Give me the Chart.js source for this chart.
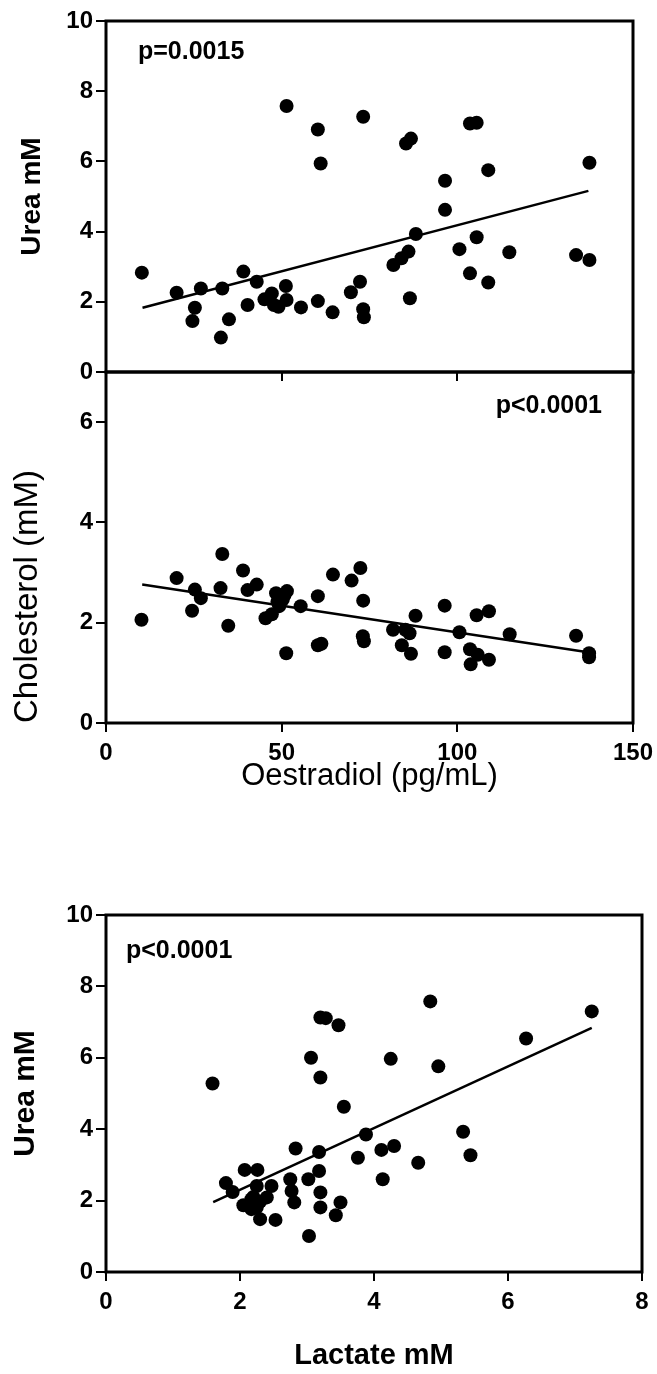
<!DOCTYPE html>
<html>
<head>
<meta charset="utf-8">
<script src="https://cdn.jsdelivr.net/npm/chart.js@4.4.1/dist/chart.umd.min.js"></script>
<style>
  body { margin: 0; background: #fff; }
  #wrap { position: relative; width: 657px; height: 1374px; overflow: hidden; }
  canvas { position: absolute; left: 0; }
</style>
</head>
<body>
<div id="wrap">
  <canvas id="urea-oest" width="657" height="392" style="top:0"></canvas>
  <canvas id="chol-oest" width="657" height="450" style="top:352px"></canvas>
  <canvas id="urea-lact" width="657" height="494" style="top:880px"></canvas>
</div>
<script>
// top panel: urea vs oestradiol
const topOestradiol = [10.2, 20.1, 24.6, 25.3, 27.0, 32.7, 33.1, 35.0, 39.1, 40.3, 42.9, 45.1, 47.2, 47.8, 49.1, 51.2,
  51.4, 51.4, 55.5, 60.3, 61.1, 60.3, 64.5, 69.7, 72.3, 73.2, 73.2, 73.4, 81.8, 84.1, 85.4, 86.1, 86.5, 86.8, 88.2,
  96.5, 96.5, 100.6, 103.6, 103.6, 105.5, 105.5, 108.8, 108.8, 114.8, 133.8, 137.6, 137.6];
const topUrea = [2.83, 2.26, 1.45, 1.83, 2.38, 0.98, 2.38, 1.50, 2.86, 1.91, 2.57, 2.07, 2.24, 1.91, 1.86, 2.45,
  2.05, 7.58, 1.84, 6.91, 5.94, 2.02, 1.70, 2.27, 2.57, 7.27, 1.79, 1.56, 3.05, 3.24, 6.51, 3.43, 2.10, 6.65, 3.93,
  5.45, 4.62, 3.50, 7.08, 2.81, 7.10, 3.84, 5.75, 2.55, 3.41, 3.33, 3.19, 5.96];
const topFitX = [10.4, 137.3];
const topFitY = [1.83, 5.16];

// middle panel: cholesterol vs oestradiol
const midOestradiol = [10.1, 20.1, 25.3, 27.0, 24.5, 32.6, 33.1, 34.8, 39.0, 40.3, 42.9, 45.4, 47.2, 48.4, 49.3,
  50.3, 51.5, 51.3, 55.4, 60.3, 60.3, 61.3, 64.6, 69.9, 72.4, 73.2, 73.1, 73.4, 81.7, 84.2, 85.2, 86.4, 86.8, 88.1,
  96.4, 96.4, 100.6, 103.6, 103.8, 105.5, 105.8, 109.0, 109.0, 114.9, 133.8, 137.5, 137.5, 48.8, 50.8];
const midCholesterol = [2.06, 2.89, 2.66, 2.49, 2.24, 2.69, 3.37, 1.94, 3.04, 2.65, 2.76, 2.09, 2.17, 2.59, 2.33,
  2.46, 2.63, 1.39, 2.33, 2.53, 1.55, 1.58, 2.96, 2.84, 3.09, 2.44, 1.73, 1.63, 1.86, 1.55, 1.86, 1.79, 1.38, 2.14,
  2.34, 1.41, 1.81, 1.47, 1.17, 2.15, 1.36, 2.23, 1.26, 1.77, 1.74, 1.39, 1.31, 2.42, 2.55];
const midFitX = [10.3, 137.2];
const midFitY = [2.76, 1.41];

// bottom panel: urea vs lactate
const lactate = [1.59, 1.79, 1.89, 2.05, 2.07, 2.17, 2.2, 2.25, 2.25, 2.26, 2.3, 2.4, 2.47, 2.53, 2.75, 2.77, 2.81,
  2.83, 3.02, 3.03, 3.06, 3.18, 3.18, 3.2, 3.2, 3.2, 3.2, 3.28, 3.47, 3.43, 3.5, 3.55, 3.76, 3.88, 4.11, 4.13, 4.25,
  4.3, 4.66, 4.84, 4.96, 5.33, 5.44, 6.27, 7.25, 2.3, 2.17];
const lactUrea = [5.28, 2.49, 2.24, 1.87, 2.86, 2.04, 2.1, 2.41, 1.81, 2.86, 1.48, 2.09, 2.41, 1.46, 2.6, 2.27, 1.95,
  3.46, 2.6, 1.01, 6.0, 3.36, 2.83, 2.23, 1.81, 5.45, 7.13, 7.11, 6.91, 1.59, 1.95, 4.63, 3.2, 3.85, 3.42, 2.6, 5.97,
  3.53, 3.06, 7.58, 5.76, 3.93, 3.27, 6.54, 7.3, 1.97, 1.76];
const lactFitX = [1.6, 7.25];
const lactFitY = [1.96, 6.84];

// tick labels
const ureaTicks = [0, 2, 4, 6, 8, 10];
const cholTicks = [0, 2, 4, 6];
const oestTicks = [0, 50, 100, 150];
const lactTicks = [0, 2, 4, 6, 8];

const FONT = '"Liberation Sans", Arial, Helvetica, sans-serif';
Chart.defaults.font.family = FONT;
Chart.defaults.color = '#000';

const pts = (xs, ys) => xs.map((x, i) => ({ x: x, y: ys[i] }));

// box round the plot area + the p value note
const framePlugin = {
  id: 'frame',
  afterDatasetsDraw(chart, args, opts) {
    const { ctx, chartArea: a } = chart;
    ctx.save();
    ctx.strokeStyle = '#000';
    ctx.lineWidth = 3;
    ctx.strokeRect(a.left, a.top, a.right - a.left, a.bottom - a.top);
    if (opts.text) {
      ctx.font = 'bold 25px ' + FONT;
      ctx.fillStyle = '#000';
      ctx.textAlign = opts.align;
      ctx.textBaseline = 'alphabetic';
      const x = opts.align === 'right' ? a.right - opts.dx : a.left + opts.dx;
      ctx.fillText(opts.text, x, a.top + opts.dy);
    }
    ctx.restore();
  }
};

function makeChart(id, c) {
  return new Chart(document.getElementById(id), {
    type: 'scatter',
    data: {
      datasets: [
        { data: pts(c.xs, c.ys), pointRadius: 7, pointHoverRadius: 7, backgroundColor: '#000', borderWidth: 0 },
        { data: pts(c.fitX, c.fitY), showLine: true, borderColor: '#000', borderWidth: 2.5, pointRadius: 0, fill: false }
      ]
    },
    options: {
      responsive: false,
      animation: false,
      events: [],
      layout: { padding: c.padding },
      plugins: { legend: { display: false }, tooltip: { enabled: false }, frame: c.note },
      scales: {
        x: {
          type: 'linear',
          min: c.xTicks[0],
          max: c.xTicks[c.xTicks.length - 1],
          afterBuildTicks: s => { s.ticks = c.xTicks.map(v => ({ value: v })); },
          afterFit: s => { s.height = c.xHeight; s.paddingLeft = 0; s.paddingRight = 0; },
          border: { display: false },
          grid: { drawOnChartArea: false, color: '#000', lineWidth: 2, tickLength: 9 },
          ticks: { display: c.xLabels, padding: 7, maxRotation: 0, autoSkip: false, font: { size: 24, weight: 'bold' } },
          title: c.xTitle || { display: false }
        },
        y: {
          type: 'linear',
          min: c.yMin,
          max: c.yMax,
          afterBuildTicks: s => { s.ticks = c.yTicks.map(v => ({ value: v })); },
          afterFit: s => { s.width = 106; },
          border: { display: false },
          grid: { drawOnChartArea: false, color: '#000', lineWidth: 2, tickLength: 10 },
          ticks: { padding: 3, autoSkip: false, font: { size: 24, weight: 'bold' } },
          title: c.yTitle
        }
      }
    },
    plugins: [framePlugin]
  });
}

makeChart('urea-oest', {
  xs: topOestradiol, ys: topUrea, fitX: topFitX, fitY: topFitY,
  xTicks: oestTicks, yTicks: ureaTicks, yMin: 0, yMax: 10,
  padding: { top: 21, right: 24, left: 0, bottom: 0 },
  xHeight: 20, xLabels: false,
  yTitle: { display: true, text: 'Urea mM', font: { size: 28, weight: 'bold' }, padding: { top: 15, bottom: 0 } },
  note: { text: 'p=0.0015', align: 'left', dx: 32, dy: 38 }
});

makeChart('chol-oest', {
  xs: midOestradiol, ys: midCholesterol, fitX: midFitX, fitY: midFitY,
  xTicks: oestTicks, yTicks: cholTicks, yMin: 0, yMax: 7,
  padding: { top: 20, right: 24, left: 0, bottom: 0 },
  xHeight: 79, xLabels: true,
  xTitle: { display: true, text: 'Oestradiol (pg/mL)', font: { size: 31, weight: 'normal' }, padding: { top: 0, bottom: 7 } },
  yTitle: { display: true, text: 'Cholesterol (mM)', align: 'start', font: { size: 33, weight: 'normal' }, padding: { top: 8, bottom: 0 } },
  note: { text: 'p<0.0001', align: 'right', dx: 31, dy: 41 }
});

makeChart('urea-lact', {
  xs: lactate, ys: lactUrea, fitX: lactFitX, fitY: lactFitY,
  xTicks: lactTicks, yTicks: ureaTicks, yMin: 0, yMax: 10,
  padding: { top: 35, right: 15, left: 0, bottom: 0 },
  xHeight: 102, xLabels: true,
  xTitle: { display: true, text: 'Lactate mM', font: { size: 29, weight: 'bold' }, padding: { top: 0, bottom: 1 } },
  yTitle: { display: true, text: 'Urea mM', font: { size: 30, weight: 'bold' }, padding: { top: 8, bottom: 0 } },
  note: { text: 'p<0.0001', align: 'left', dx: 20, dy: 43 }
});
</script>
</body>
</html>
